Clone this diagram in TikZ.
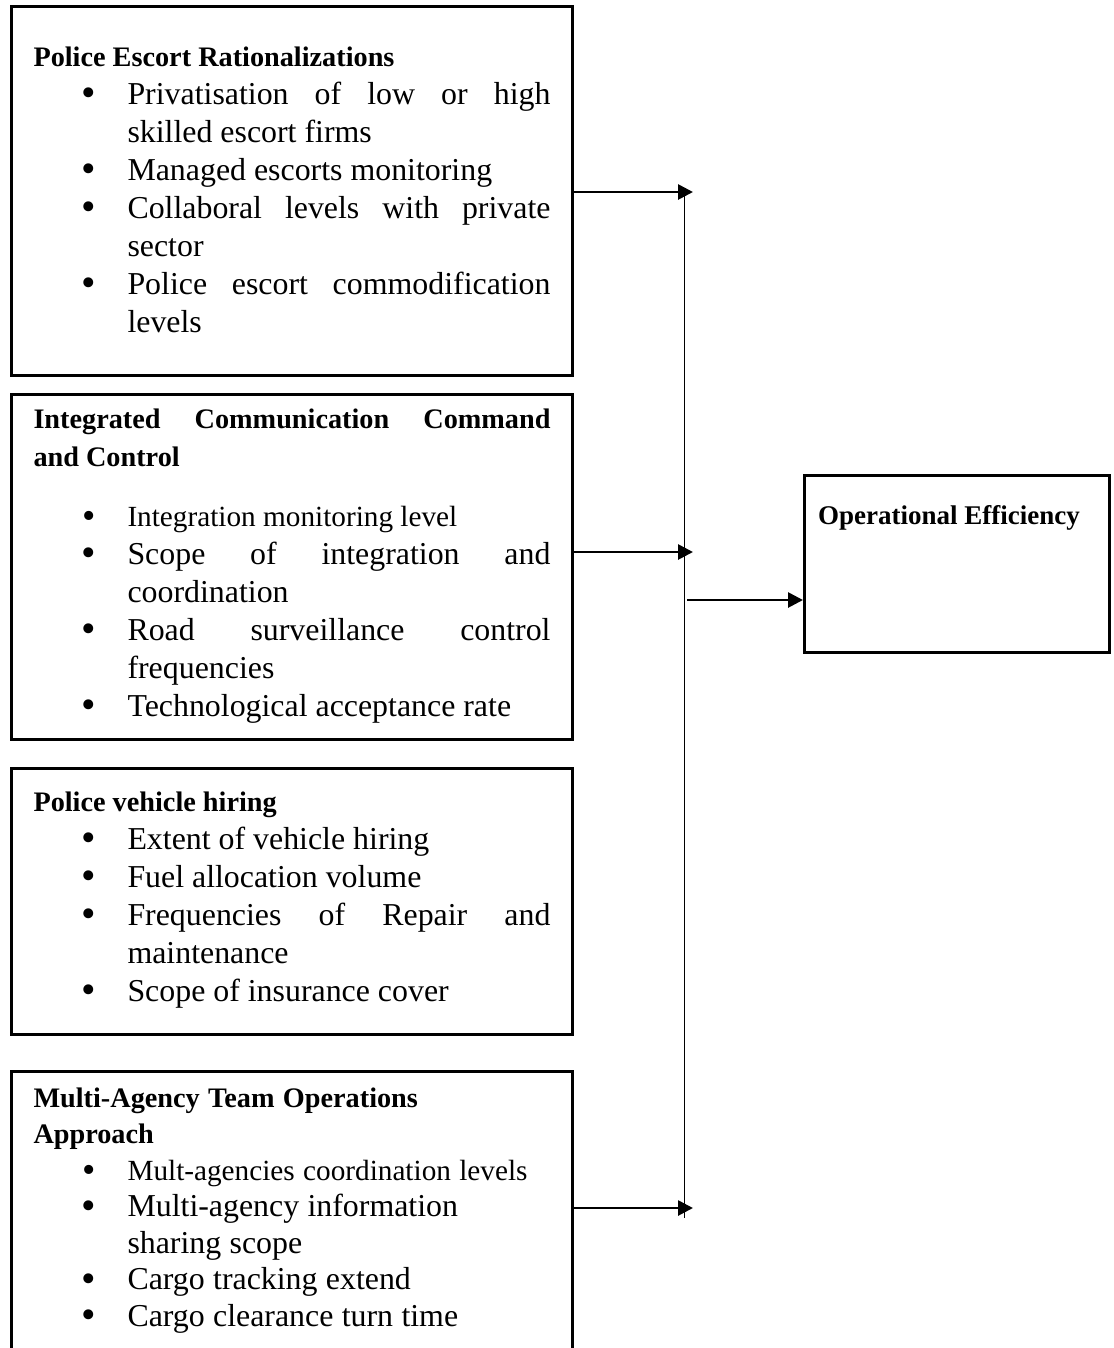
\documentclass[tikz,border=0pt]{standalone}
\usepackage{fontspec}
\usepackage{graphicx}
\setmainfont{Liberation Serif}
\usetikzlibrary{arrows.meta}

\newcommand{\lineskp}{15.2pt}
\newcommand{\bigbullet}{\raisebox{-0.09em}{\scalebox{1.3}{\textbullet}}}
\newcommand{\boxhead}[1]{{\fontsize{11.3}{\lineskp}\selectfont\bfseries\noindent #1\par}}
\newcommand{\boxitem}[2][12.75]{{\fontsize{#1}{\lineskp}\selectfont\leftskip=37.6pt\noindent\llap{\bigbullet\hskip 12.5pt}#2\par}}

\tikzset{
  factor/.style={draw, line width=1pt, minimum width=224.4pt, anchor=north west, inner sep=0pt},
  factortext/.style={anchor=north west, inner sep=0pt, text width=206.8pt, align=justify},
  link/.style={->, line width=1.1pt},
}

\begin{document}
\begin{tikzpicture}[x=0.4pt, y=-0.4pt, >={Triangle[length=6pt,width=6pt]}]
\useasboundingbox[fill=white] (0,0) rectangle (1114,1348);

% independent variables
\node[factor, minimum height=147.6pt] (escort) at (10,5) {};
\node[factortext] (escorttxt) at (33,46) {%
  \boxhead{Police Escort Rationalizations}
  \boxitem{Privatisation of low or high\linebreak skilled escort firms}
  \boxitem{Managed escorts monitoring}
  \boxitem{Collaboral levels with private\linebreak sector}
  \boxitem{Police escort commodification\linebreak levels}};

\node[factor, minimum height=138pt] (comm) at (10,393) {};
\node[factortext] (commtxt) at (33,408) {%
  \boxhead{Integrated Communication Command\linebreak and Control}
  \vspace{8.8pt}
  \boxitem[11.7]{Integration monitoring level}
  \boxitem{Scope of integration and\linebreak coordination}
  \boxitem{Road surveillance control\linebreak frequencies}
  \boxitem{Technological acceptance rate}};

\node[factor, minimum height=106.4pt] (hire) at (10,767) {};
\node[factortext] (hiretxt) at (33,791) {%
  \boxhead{Police vehicle hiring}
  \boxitem{Extent of vehicle hiring}
  \boxitem{Fuel allocation volume}
  \boxitem{Frequencies of Repair and\linebreak maintenance}
  \boxitem{Scope of insurance cover}};

\node[factor, minimum height=116pt] (multi) at (10,1070) {};
\node[factortext, align=left] (multitxt) at (33,1087) {%
  \renewcommand{\lineskp}{14.6pt}%
  \boxhead{Multi-Agency Team Operations\\ Approach}
  \boxitem[11.7]{Mult-agencies coordination levels}
  \boxitem{Multi-agency information\\ sharing scope}
  \boxitem{Cargo tracking extend}
  \boxitem{Cargo clearance turn time}};

% dependent variable
\node[draw, line width=1pt, minimum width=122pt, minimum height=70.8pt, anchor=north west, inner sep=0pt] (eff) at (803,474) {};
\node[font=\fontsize{10.8}{13}\selectfont\bfseries, inner sep=0pt] (efftxt) at (949,518) {Operational Efficiency};

\coordinate (t1) at (693,192);
\coordinate (t2) at (693,552);
\coordinate (t4) at (693,1208);
\coordinate (vtop) at (684,192);
\coordinate (vbot) at (684,1218);
\coordinate (j) at (687,600);

\draw (vtop) -- (vbot);
\draw[link] (escort.east |- t1) -- (t1);
\draw[link] (comm.east |- t2) -- (t2);
\draw[link] (multi.east |- t4) -- (t4);
\draw[link] (j) -- (eff.west |- j);
\end{tikzpicture}
\end{document}
